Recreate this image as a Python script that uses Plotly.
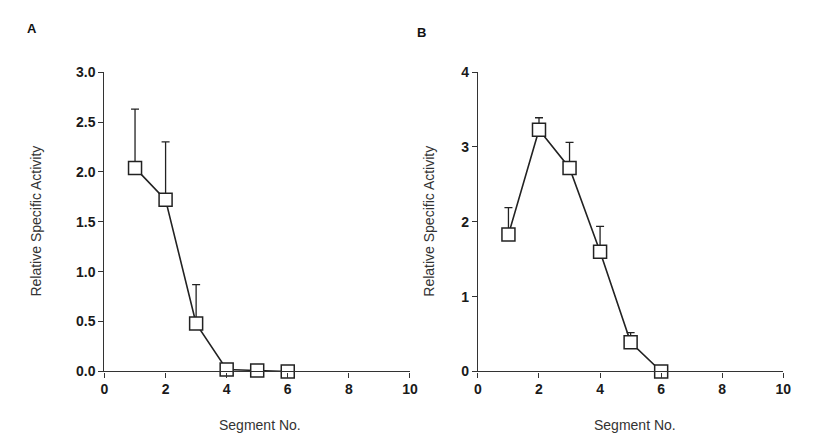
import plotly.graph_objects as go

# Panel A data
segA = [1, 2, 3, 4, 5, 6]
actA = [2.04, 1.72, 0.48, 0.02, 0.01, 0.0]
errA = [0.59, 0.58, 0.39, 0.0, 0.0, 0.0]

# Panel B data
segB = [1, 2, 3, 4, 5, 6]
actB = [1.83, 3.23, 2.72, 1.60, 0.39, 0.0]
errB = [0.36, 0.16, 0.34, 0.34, 0.13, 0.0]

xticks = [0, 2, 4, 6, 8, 10]
yticksA = [0.0, 0.5, 1.0, 1.5, 2.0, 2.5, 3.0]
yticksB = [0, 1, 2, 3, 4]

ink = "#222222"
font = "Liberation Sans, Arial, sans-serif"

fig = go.Figure()

def add_series(x, y, e, xa, ya):
    fig.add_trace(go.Scatter(
        x=x, y=y, xaxis=xa, yaxis=ya, mode="lines+markers",
        line=dict(color=ink, width=1.6),
        marker=dict(symbol="square", size=13, color="white",
                    line=dict(color=ink, width=1.5)),
        error_y=dict(type="data", array=e, arrayminus=[0] * len(e),
                     symmetric=False, color=ink, thickness=1.3, width=4),
        cliponaxis=False, showlegend=False, hoverinfo="skip"))

add_series(segA, actA, errA, "x", "y")
add_series(segB, actB, errB, "x2", "y2")

ydom = [1 - 377 / 446, 1 - 66.5 / 446]
axis_common = dict(showline=True, linecolor="#333333", linewidth=1.3,
                   ticks="outside", ticklen=5, tickcolor="#333333", tickwidth=1.2,
                   showgrid=False, zeroline=False,
                   tickfont=dict(family=font, size=14, color="#1a1a1a", weight="bold"))

fig.update_layout(
    autosize=True,
    margin=dict(l=0, r=0, t=0, b=0),
    paper_bgcolor="white", plot_bgcolor="white",
    font=dict(family=font, color="#222222"),
    xaxis=dict(domain=[102 / 814, 412 / 814], range=[0, 10], tickvals=xticks,
               anchor="y", **axis_common),
    yaxis=dict(domain=ydom, range=[0, 3], tickvals=yticksA, tickformat=".1f",
               anchor="x", **axis_common),
    xaxis2=dict(domain=[481 / 814, 791 / 814], range=[0, 10], tickvals=xticks,
                anchor="y2", **axis_common),
    yaxis2=dict(domain=ydom, range=[0, 4], tickvals=yticksB,
                anchor="x2", **axis_common),
)

ann = []
ann.append(dict(text="<b>A</b>", x=28 / 814, y=1 - 21 / 446))
ann.append(dict(text="<b>B</b>", x=424 / 814, y=1 - 25 / 446))
for a in ann:
    a.update(font=dict(family=font, size=13, color="#111111"))
for xc in [260 / 814, 640 / 814]:
    ann.append(dict(text="Segment No.", x=xc, y=1 - 432 / 446,
                    font=dict(family=font, size=14, color="#333333")))
for xc in [33 / 814, 431 / 814]:
    ann.append(dict(text="Relative Specific Activity", x=xc, y=1 - 221 / 446,
                    textangle=-90, font=dict(family=font, size=14, color="#333333")))
for a in ann:
    a.update(xref="paper", yref="paper", xanchor="center", yanchor="middle",
             showarrow=False)
fig.update_layout(annotations=ann)

post = (
    "document.documentElement.style.margin='0';"
    "document.documentElement.style.overflow='hidden';"
    "document.body.style.margin='0';"
    "document.body.style.overflow='hidden';"
    "var d=document.querySelector('.plotly-graph-div');"
    "d.style.position='fixed';d.style.left='0px';d.style.top='0px';"
)
fig.write_html("out.html", config={"displayModeBar": False, "responsive": True},
               default_width="100vw", default_height="100vh", post_script=post)
